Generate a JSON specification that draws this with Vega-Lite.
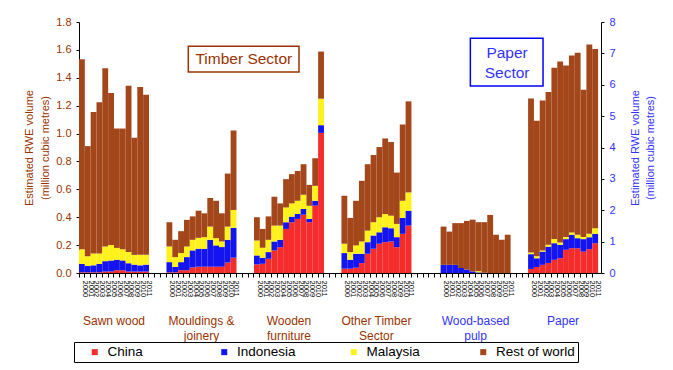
{
  "$schema": "https://vega.github.io/schema/vega-lite/v6.json",
  "width": 522,
  "height": 251,
  "autosize": {"type": "none"},
  "padding": {"left": 79, "top": 22, "right": 72, "bottom": 97},
  "background": "white",
  "config": {
    "font": "Liberation Sans",
    "view": {"stroke": null},
    "axis": {"grid": false, "domainColor": "black", "tickColor": "black", "titleFontWeight": "normal"},
    "axisLeft": {"titleColor": "#993300", "titleFontSize": 11, "titleLineHeight": 16, "titlePadding": 5, "labelColor": "#993300", "labelFontSize": 11, "labelOverlap": false, "tickSize": 3, "labelPadding": 5},
    "axisRight": {"titleColor": "#3333FF", "titleFontSize": 11, "titleAngle": 270, "titleLineHeight": 15, "titlePadding": 10, "labelColor": "#3333FF", "labelFontSize": 11, "labelOverlap": false, "tickSize": 3, "labelPadding": 5},
    "axisX": {"labelAngle": 90, "labelAlign": "left", "labelBaseline": "middle", "labelFontSize": 7.5, "labelColor": "black", "labelPadding": 3, "tickSize": 4, "labelOverlap": false, "bandPosition": 0, "labelOffset": 2.9}
  },
  "datasets": {
    "bars": [
      {"p": "Sawn wood", "s": "T", "y": "2000", "China": 0.005, "Indonesia": 0.06, "Malaysia": 0.105, "Rest of world": 1.363},
      {"p": "Sawn wood", "s": "T", "y": "2001", "China": 0.005, "Indonesia": 0.045, "Malaysia": 0.07, "Rest of world": 0.79},
      {"p": "Sawn wood", "s": "T", "y": "2002", "China": 0.005, "Indonesia": 0.05, "Malaysia": 0.085, "Rest of world": 1.015},
      {"p": "Sawn wood", "s": "T", "y": "2003", "China": 0.005, "Indonesia": 0.06, "Malaysia": 0.075, "Rest of world": 1.084},
      {"p": "Sawn wood", "s": "T", "y": "2004", "China": 0.01, "Indonesia": 0.075, "Malaysia": 0.105, "Rest of world": 1.279},
      {"p": "Sawn wood", "s": "T", "y": "2005", "China": 0.01, "Indonesia": 0.08, "Malaysia": 0.11, "Rest of world": 1.09},
      {"p": "Sawn wood", "s": "T", "y": "2006", "China": 0.02, "Indonesia": 0.075, "Malaysia": 0.085, "Rest of world": 0.856},
      {"p": "Sawn wood", "s": "T", "y": "2007", "China": 0.02, "Indonesia": 0.07, "Malaysia": 0.08, "Rest of world": 0.866},
      {"p": "Sawn wood", "s": "T", "y": "2008", "China": 0.01, "Indonesia": 0.06, "Malaysia": 0.08, "Rest of world": 1.193},
      {"p": "Sawn wood", "s": "T", "y": "2009", "China": 0.01, "Indonesia": 0.05, "Malaysia": 0.07, "Rest of world": 0.84},
      {"p": "Sawn wood", "s": "T", "y": "2010", "China": 0.01, "Indonesia": 0.045, "Malaysia": 0.075, "Rest of world": 1.203},
      {"p": "Sawn wood", "s": "T", "y": "2011", "China": 0.01, "Indonesia": 0.05, "Malaysia": 0.07, "Rest of world": 1.149},
      {"p": "Mouldings & joinery", "s": "T", "y": "2000", "China": 0.005, "Indonesia": 0.073, "Malaysia": 0.112, "Rest of world": 0.174},
      {"p": "Mouldings & joinery", "s": "T", "y": "2001", "China": 0.005, "Indonesia": 0.038, "Malaysia": 0.071, "Rest of world": 0.124},
      {"p": "Mouldings & joinery", "s": "T", "y": "2002", "China": 0.02, "Indonesia": 0.058, "Malaysia": 0.065, "Rest of world": 0.157},
      {"p": "Mouldings & joinery", "s": "T", "y": "2003", "China": 0.02, "Indonesia": 0.094, "Malaysia": 0.076, "Rest of world": 0.191},
      {"p": "Mouldings & joinery", "s": "T", "y": "2004", "China": 0.04, "Indonesia": 0.122, "Malaysia": 0.076, "Rest of world": 0.168},
      {"p": "Mouldings & joinery", "s": "T", "y": "2005", "China": 0.045, "Indonesia": 0.129, "Malaysia": 0.078, "Rest of world": 0.195},
      {"p": "Mouldings & joinery", "s": "T", "y": "2006", "China": 0.045, "Indonesia": 0.129, "Malaysia": 0.083, "Rest of world": 0.171},
      {"p": "Mouldings & joinery", "s": "T", "y": "2007", "China": 0.045, "Indonesia": 0.193, "Malaysia": 0.095, "Rest of world": 0.205},
      {"p": "Mouldings & joinery", "s": "T", "y": "2008", "China": 0.045, "Indonesia": 0.153, "Malaysia": 0.052, "Rest of world": 0.268},
      {"p": "Mouldings & joinery", "s": "T", "y": "2009", "China": 0.045, "Indonesia": 0.141, "Malaysia": 0.04, "Rest of world": 0.202},
      {"p": "Mouldings & joinery", "s": "T", "y": "2010", "China": 0.075, "Indonesia": 0.163, "Malaysia": 0.095, "Rest of world": 0.38},
      {"p": "Mouldings & joinery", "s": "T", "y": "2011", "China": 0.11, "Indonesia": 0.214, "Malaysia": 0.128, "Rest of world": 0.57},
      {"p": "Wooden furniture", "s": "T", "y": "2000", "China": 0.062, "Indonesia": 0.064, "Malaysia": 0.107, "Rest of world": 0.167},
      {"p": "Wooden furniture", "s": "T", "y": "2001", "China": 0.066, "Indonesia": 0.043, "Malaysia": 0.072, "Rest of world": 0.135},
      {"p": "Wooden furniture", "s": "T", "y": "2002", "China": 0.102, "Indonesia": 0.048, "Malaysia": 0.088, "Rest of world": 0.168},
      {"p": "Wooden furniture", "s": "T", "y": "2003", "China": 0.162, "Indonesia": 0.064, "Malaysia": 0.114, "Rest of world": 0.207},
      {"p": "Wooden furniture", "s": "T", "y": "2004", "China": 0.185, "Indonesia": 0.053, "Malaysia": 0.102, "Rest of world": 0.159},
      {"p": "Wooden furniture", "s": "T", "y": "2005", "China": 0.316, "Indonesia": 0.048, "Malaysia": 0.106, "Rest of world": 0.203},
      {"p": "Wooden furniture", "s": "T", "y": "2006", "China": 0.364, "Indonesia": 0.04, "Malaysia": 0.095, "Rest of world": 0.21},
      {"p": "Wooden furniture", "s": "T", "y": "2007", "China": 0.388, "Indonesia": 0.035, "Malaysia": 0.095, "Rest of world": 0.214},
      {"p": "Wooden furniture", "s": "T", "y": "2008", "China": 0.418, "Indonesia": 0.041, "Malaysia": 0.102, "Rest of world": 0.219},
      {"p": "Wooden furniture", "s": "T", "y": "2009", "China": 0.364, "Indonesia": 0.024, "Malaysia": 0.094, "Rest of world": 0.15},
      {"p": "Wooden furniture", "s": "T", "y": "2010", "China": 0.483, "Indonesia": 0.035, "Malaysia": 0.107, "Rest of world": 0.198},
      {"p": "Wooden furniture", "s": "T", "y": "2011", "China": 1.005, "Indonesia": 0.055, "Malaysia": 0.19, "Rest of world": 0.338},
      {"p": "Other Timber Sector", "s": "T", "y": "2000", "China": 0.031, "Indonesia": 0.112, "Malaysia": 0.067, "Rest of world": 0.344},
      {"p": "Other Timber Sector", "s": "T", "y": "2001", "China": 0.031, "Indonesia": 0.064, "Malaysia": 0.055, "Rest of world": 0.245},
      {"p": "Other Timber Sector", "s": "T", "y": "2002", "China": 0.038, "Indonesia": 0.1, "Malaysia": 0.06, "Rest of world": 0.32},
      {"p": "Other Timber Sector", "s": "T", "y": "2003", "China": 0.071, "Indonesia": 0.067, "Malaysia": 0.088, "Rest of world": 0.435},
      {"p": "Other Timber Sector", "s": "T", "y": "2004", "China": 0.138, "Indonesia": 0.083, "Malaysia": 0.083, "Rest of world": 0.476},
      {"p": "Other Timber Sector", "s": "T", "y": "2005", "China": 0.174, "Indonesia": 0.095, "Malaysia": 0.095, "Rest of world": 0.482},
      {"p": "Other Timber Sector", "s": "T", "y": "2006", "China": 0.21, "Indonesia": 0.082, "Malaysia": 0.108, "Rest of world": 0.503},
      {"p": "Other Timber Sector", "s": "T", "y": "2007", "China": 0.221, "Indonesia": 0.107, "Malaysia": 0.095, "Rest of world": 0.542},
      {"p": "Other Timber Sector", "s": "T", "y": "2008", "China": 0.226, "Indonesia": 0.095, "Malaysia": 0.09, "Rest of world": 0.528},
      {"p": "Other Timber Sector", "s": "T", "y": "2009", "China": 0.185, "Indonesia": 0.072, "Malaysia": 0.095, "Rest of world": 0.368},
      {"p": "Other Timber Sector", "s": "T", "y": "2010", "China": 0.281, "Indonesia": 0.114, "Malaysia": 0.123, "Rest of world": 0.547},
      {"p": "Other Timber Sector", "s": "T", "y": "2011", "China": 0.34, "Indonesia": 0.107, "Malaysia": 0.131, "Rest of world": 0.653},
      {"p": "Wood-based pulp", "s": "P", "y": "2000", "China": 0, "Indonesia": 0.26, "Malaysia": 0, "Rest of world": 1.22},
      {"p": "Wood-based pulp", "s": "P", "y": "2001", "China": 0, "Indonesia": 0.26, "Malaysia": 0, "Rest of world": 1.06},
      {"p": "Wood-based pulp", "s": "P", "y": "2002", "China": 0, "Indonesia": 0.26, "Malaysia": 0, "Rest of world": 1.33},
      {"p": "Wood-based pulp", "s": "P", "y": "2003", "China": 0, "Indonesia": 0.16, "Malaysia": 0, "Rest of world": 1.43},
      {"p": "Wood-based pulp", "s": "P", "y": "2004", "China": 0, "Indonesia": 0.11, "Malaysia": 0, "Rest of world": 1.55},
      {"p": "Wood-based pulp", "s": "P", "y": "2005", "China": 0, "Indonesia": 0.05, "Malaysia": 0, "Rest of world": 1.65},
      {"p": "Wood-based pulp", "s": "P", "y": "2006", "China": 0, "Indonesia": 0.02, "Malaysia": 0.04, "Rest of world": 1.56},
      {"p": "Wood-based pulp", "s": "P", "y": "2007", "China": 0, "Indonesia": 0.01, "Malaysia": 0, "Rest of world": 1.61},
      {"p": "Wood-based pulp", "s": "P", "y": "2008", "China": 0, "Indonesia": 0, "Malaysia": 0, "Rest of world": 1.85},
      {"p": "Wood-based pulp", "s": "P", "y": "2009", "China": 0, "Indonesia": 0, "Malaysia": 0, "Rest of world": 1.22},
      {"p": "Wood-based pulp", "s": "P", "y": "2010", "China": 0, "Indonesia": 0, "Malaysia": 0, "Rest of world": 1.06},
      {"p": "Wood-based pulp", "s": "P", "y": "2011", "China": 0, "Indonesia": 0, "Malaysia": 0, "Rest of world": 1.22},
      {"p": "Paper", "s": "P", "y": "2000", "China": 0.13, "Indonesia": 0.47, "Malaysia": 0.05, "Rest of world": 4.91},
      {"p": "Paper", "s": "P", "y": "2001", "China": 0.19, "Indonesia": 0.28, "Malaysia": 0.06, "Rest of world": 4.32},
      {"p": "Paper", "s": "P", "y": "2002", "China": 0.26, "Indonesia": 0.42, "Malaysia": 0.04, "Rest of world": 4.78},
      {"p": "Paper", "s": "P", "y": "2003", "China": 0.32, "Indonesia": 0.52, "Malaysia": 0.06, "Rest of world": 4.87},
      {"p": "Paper", "s": "P", "y": "2004", "China": 0.42, "Indonesia": 0.53, "Malaysia": 0.13, "Rest of world": 5.46},
      {"p": "Paper", "s": "P", "y": "2005", "China": 0.47, "Indonesia": 0.43, "Malaysia": 0.07, "Rest of world": 5.77},
      {"p": "Paper", "s": "P", "y": "2006", "China": 0.74, "Indonesia": 0.34, "Malaysia": 0.07, "Rest of world": 5.46},
      {"p": "Paper", "s": "P", "y": "2007", "China": 0.79, "Indonesia": 0.43, "Malaysia": 0.07, "Rest of world": 5.64},
      {"p": "Paper", "s": "P", "y": "2008", "China": 0.79, "Indonesia": 0.32, "Malaysia": 0.11, "Rest of world": 5.8},
      {"p": "Paper", "s": "P", "y": "2009", "China": 0.68, "Indonesia": 0.4, "Malaysia": 0.07, "Rest of world": 4.69},
      {"p": "Paper", "s": "P", "y": "2010", "China": 0.76, "Indonesia": 0.38, "Malaysia": 0.11, "Rest of world": 6.03},
      {"p": "Paper", "s": "P", "y": "2011", "China": 0.95, "Indonesia": 0.3, "Malaysia": 0.18, "Rest of world": 5.71}
    ],
    "groups": [
      {"p": "Sawn wood", "y": "2005", "s": "T", "label": "Sawn wood"},
      {"p": "Mouldings & joinery", "y": "2005", "s": "T", "label": "Mouldings &\njoinery"},
      {"p": "Wooden furniture", "y": "2005", "s": "T", "label": "Wooden\nfurniture"},
      {"p": "Other Timber Sector", "y": "2005", "s": "T", "label": "Other Timber\nSector"},
      {"p": "Wood-based pulp", "y": "2005", "s": "P", "label": "Wood-based\npulp"},
      {"p": "Paper", "y": "2005", "s": "P", "label": "Paper"}
    ]
  },
  "layer": [
    {
      "layer": [
        {
          "data": {"name": "bars"},
          "transform": [
            {"filter": "datum.s == 'T'"},
            {"fold": ["China", "Indonesia", "Malaysia", "Rest of world"], "as": ["country", "value"]},
            {"calculate": "datum.p + '|' + datum.y", "as": "key"}
          ],
          "mark": {"type": "bar"},
          "encoding": {
            "x": {
              "field": "key", "type": "nominal",
              "scale": {
                "domain": ["Sawn wood|2000","Sawn wood|2001","Sawn wood|2002","Sawn wood|2003","Sawn wood|2004","Sawn wood|2005","Sawn wood|2006","Sawn wood|2007","Sawn wood|2008","Sawn wood|2009","Sawn wood|2010","Sawn wood|2011","g1","g2","g3",
                  "Mouldings & joinery|2000","Mouldings & joinery|2001","Mouldings & joinery|2002","Mouldings & joinery|2003","Mouldings & joinery|2004","Mouldings & joinery|2005","Mouldings & joinery|2006","Mouldings & joinery|2007","Mouldings & joinery|2008","Mouldings & joinery|2009","Mouldings & joinery|2010","Mouldings & joinery|2011","g4","g5","g6",
                  "Wooden furniture|2000","Wooden furniture|2001","Wooden furniture|2002","Wooden furniture|2003","Wooden furniture|2004","Wooden furniture|2005","Wooden furniture|2006","Wooden furniture|2007","Wooden furniture|2008","Wooden furniture|2009","Wooden furniture|2010","Wooden furniture|2011","g7","g8","g9",
                  "Other Timber Sector|2000","Other Timber Sector|2001","Other Timber Sector|2002","Other Timber Sector|2003","Other Timber Sector|2004","Other Timber Sector|2005","Other Timber Sector|2006","Other Timber Sector|2007","Other Timber Sector|2008","Other Timber Sector|2009","Other Timber Sector|2010","Other Timber Sector|2011","g10","g11","g12","g13","g14",
                  "Wood-based pulp|2000","Wood-based pulp|2001","Wood-based pulp|2002","Wood-based pulp|2003","Wood-based pulp|2004","Wood-based pulp|2005","Wood-based pulp|2006","Wood-based pulp|2007","Wood-based pulp|2008","Wood-based pulp|2009","Wood-based pulp|2010","Wood-based pulp|2011","g15","g16","g17",
                  "Paper|2000","Paper|2001","Paper|2002","Paper|2003","Paper|2004","Paper|2005","Paper|2006","Paper|2007","Paper|2008","Paper|2009","Paper|2010","Paper|2011"],
                "paddingInner": 0, "paddingOuter": 0.25, "align": 0
              },
              "axis": {"title": null, "labelExpr": "indexof(datum.value, '|') > 0 ? slice(datum.value, indexof(datum.value, '|') + 1) : ''"}
            },
            "y": {
              "field": "value", "type": "quantitative", "stack": "zero",
              "scale": {"domain": [0, 1.8], "nice": false},
              "axis": {"title": ["Estimated RWE volume", "(million cubic metres)"], "format": ".1f", "values": [0, 0.2, 0.4, 0.6, 0.8, 1, 1.2, 1.4, 1.6, 1.8]}
            },
            "order": {"field": "country", "sort": "ascending"},
            "color": {
              "field": "country", "type": "nominal",
              "scale": {"domain": ["China", "Indonesia", "Malaysia", "Rest of world"], "range": ["#F52C2C", "#1414F0", "#FFF21A", "#A3461A"]},
              "legend": {"orient": "none", "legendX": -5, "legendY": 320, "direction": "horizontal", "columns": 4, "gridAlign": "all", "columnPadding": 30.5, "symbolType": "square", "symbolSize": 36, "symbolStrokeWidth": 0, "labelFontSize": 13.5, "labelColor": "black", "labelOffset": 6, "strokeColor": "black", "padding": 3, "title": " ", "titleOrient": "left", "titlePadding": 11, "titleFontSize": 13.5}
            }
          }
        },
        {
          "data": {"name": "groups"},
          "transform": [{"calculate": "datum.p + '|' + datum.y", "as": "key"}],
          "mark": {"type": "text", "fontSize": 12, "lineBreak": "\n", "lineHeight": 15, "baseline": "middle", "align": "center", "dy": 48},
          "encoding": {
            "x": {"field": "key", "type": "nominal", "bandPosition": 1},
            "y": {"datum": 0, "type": "quantitative", "axis": {"title": ["Estimated RWE volume", "(million cubic metres)"], "format": ".1f", "values": [0, 0.2, 0.4, 0.6, 0.8, 1, 1.2, 1.4, 1.6, 1.8]}},
            "text": {"field": "label"},
            "color": {"condition": {"test": "datum.s == 'P'", "value": "#3333FF"}, "value": "#993300"}
          }
        },
        {
          "data": {"values": [{"label": "Timber Sector"}]},
          "mark": {"type": "rect", "fill": "white", "stroke": "#993300", "strokeWidth": 1.5},
          "encoding": {
            "x": {"datum": "Mouldings & joinery|2003", "type": "nominal", "bandPosition": 0.74},
            "x2": {"datum": "Wooden furniture|2007", "bandPosition": 0.72},
            "y": {"datum": 1.626, "type": "quantitative", "axis": {"title": ["Estimated RWE volume", "(million cubic metres)"], "format": ".1f", "values": [0, 0.2, 0.4, 0.6, 0.8, 1, 1.2, 1.4, 1.6, 1.8]}},
            "y2": {"datum": 1.441}
          }
        },
        {
          "data": {"values": [{"label": "Timber Sector"}]},
          "mark": {"type": "text", "fontSize": 15.5, "color": "#993300", "baseline": "middle", "align": "center"},
          "encoding": {
            "x": {"datum": "g5", "type": "nominal", "bandPosition": 0.26},
            "y": {"datum": 1.535, "type": "quantitative", "axis": {"title": ["Estimated RWE volume", "(million cubic metres)"], "format": ".1f", "values": [0, 0.2, 0.4, 0.6, 0.8, 1, 1.2, 1.4, 1.6, 1.8]}},
            "text": {"field": "label"}
          }
        },
        {
          "data": {"values": [{"label": "Paper\nSector"}]},
          "mark": {"type": "rect", "fill": "white", "stroke": "#0000FF", "strokeWidth": 1.5},
          "encoding": {
            "x": {"datum": "Wood-based pulp|2005", "type": "nominal", "bandPosition": 0.1},
            "x2": {"datum": "Paper|2002", "bandPosition": 0.56},
            "y": {"datum": 1.683, "type": "quantitative", "axis": {"title": ["Estimated RWE volume", "(million cubic metres)"], "format": ".1f", "values": [0, 0.2, 0.4, 0.6, 0.8, 1, 1.2, 1.4, 1.6, 1.8]}},
            "y2": {"datum": 1.341}
          }
        },
        {
          "data": {"values": [{"label": "Paper\nSector"}]},
          "mark": {"type": "text", "fontSize": 15.5, "color": "#3333FF", "baseline": "middle", "align": "center", "lineBreak": "\n", "lineHeight": 20.6},
          "encoding": {
            "x": {"datum": "Wood-based pulp|2011", "type": "nominal", "bandPosition": 0.4},
            "y": {"datum": 1.58, "type": "quantitative", "axis": {"title": ["Estimated RWE volume", "(million cubic metres)"], "format": ".1f", "values": [0, 0.2, 0.4, 0.6, 0.8, 1, 1.2, 1.4, 1.6, 1.8]}},
            "text": {"field": "label"}
          }
        }
      ]
    },
    {
      "data": {"name": "bars"},
      "transform": [
        {"filter": "datum.s == 'P'"},
        {"fold": ["China", "Indonesia", "Malaysia", "Rest of world"], "as": ["country", "value"]},
        {"calculate": "datum.p + '|' + datum.y", "as": "key"}
      ],
      "mark": {"type": "bar"},
      "encoding": {
        "x": {
          "field": "key", "type": "nominal",
          "scale": {
            "domain": ["Sawn wood|2000","Sawn wood|2001","Sawn wood|2002","Sawn wood|2003","Sawn wood|2004","Sawn wood|2005","Sawn wood|2006","Sawn wood|2007","Sawn wood|2008","Sawn wood|2009","Sawn wood|2010","Sawn wood|2011","g1","g2","g3",
              "Mouldings & joinery|2000","Mouldings & joinery|2001","Mouldings & joinery|2002","Mouldings & joinery|2003","Mouldings & joinery|2004","Mouldings & joinery|2005","Mouldings & joinery|2006","Mouldings & joinery|2007","Mouldings & joinery|2008","Mouldings & joinery|2009","Mouldings & joinery|2010","Mouldings & joinery|2011","g4","g5","g6",
              "Wooden furniture|2000","Wooden furniture|2001","Wooden furniture|2002","Wooden furniture|2003","Wooden furniture|2004","Wooden furniture|2005","Wooden furniture|2006","Wooden furniture|2007","Wooden furniture|2008","Wooden furniture|2009","Wooden furniture|2010","Wooden furniture|2011","g7","g8","g9",
              "Other Timber Sector|2000","Other Timber Sector|2001","Other Timber Sector|2002","Other Timber Sector|2003","Other Timber Sector|2004","Other Timber Sector|2005","Other Timber Sector|2006","Other Timber Sector|2007","Other Timber Sector|2008","Other Timber Sector|2009","Other Timber Sector|2010","Other Timber Sector|2011","g10","g11","g12","g13","g14",
              "Wood-based pulp|2000","Wood-based pulp|2001","Wood-based pulp|2002","Wood-based pulp|2003","Wood-based pulp|2004","Wood-based pulp|2005","Wood-based pulp|2006","Wood-based pulp|2007","Wood-based pulp|2008","Wood-based pulp|2009","Wood-based pulp|2010","Wood-based pulp|2011","g15","g16","g17",
              "Paper|2000","Paper|2001","Paper|2002","Paper|2003","Paper|2004","Paper|2005","Paper|2006","Paper|2007","Paper|2008","Paper|2009","Paper|2010","Paper|2011"],
            "paddingInner": 0, "paddingOuter": 0.25, "align": 0
          },
          "axis": {"title": null, "labelExpr": "indexof(datum.value, '|') > 0 ? slice(datum.value, indexof(datum.value, '|') + 1) : ''"}
        },
        "y": {
          "field": "value", "type": "quantitative", "stack": "zero",
          "scale": {"domain": [0, 8], "nice": false},
          "axis": {"orient": "right", "title": ["Estimated RWE volume", "(million cubic metres)"], "format": "d", "values": [0, 1, 2, 3, 4, 5, 6, 7, 8]}
        },
        "order": {"field": "country", "sort": "ascending"},
        "color": {
          "field": "country", "type": "nominal",
          "scale": {"domain": ["China", "Indonesia", "Malaysia", "Rest of world"], "range": ["#F52C2C", "#1414F0", "#FFF21A", "#A3461A"]},
          "legend": {"orient": "none", "legendX": -5, "legendY": 320, "direction": "horizontal", "columns": 4, "gridAlign": "all", "columnPadding": 30.5, "symbolType": "square", "symbolSize": 36, "symbolStrokeWidth": 0, "labelFontSize": 13.5, "labelColor": "black", "labelOffset": 6, "strokeColor": "black", "padding": 3, "title": " ", "titleOrient": "left", "titlePadding": 11, "titleFontSize": 13.5}
        }
      }
    }
  ],
  "resolve": {"scale": {"y": "independent"}}
}
